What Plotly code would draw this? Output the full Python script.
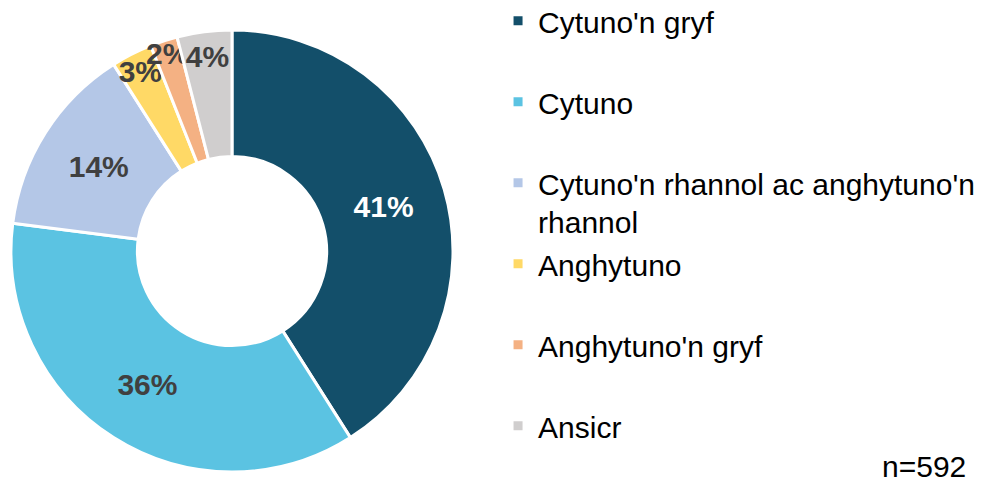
import plotly.graph_objects as go

labels = ["Cytuno'n gryf", "Cytuno", "Cytuno'n rhannol ac anghytuno'n<br>rhannol",
          "Anghytuno", "Anghytuno'n gryf", "Ansicr"]
values = [41, 36, 14, 3, 2, 4]
colors = ["#134F6A", "#5BC3E2", "#B4C7E7", "#FFD966", "#F4B183", "#D0CECE"]
text_colors = ["#FFFFFF", "#404040", "#404040", "#404040", "#404040", "#404040"]
note = "n=592"

# pad single-line legend labels (except the last) to two lines so items are evenly spaced
legend_labels = [l if ("<br>" in l or i == len(labels) - 1) else l + "<br> "
                 for i, l in enumerate(labels)]

W, H = 987, 473  # page body has an 8px margin inside the 995x481 window

fig = go.Figure(go.Pie(
    labels=legend_labels,
    values=values,
    hole=0.428,
    sort=False,
    direction="clockwise",
    rotation=0,
    marker=dict(colors=colors, line=dict(color="#FFFFFF", width=3)),
    texttemplate="%{value}%",
    textposition="inside",
    insidetextorientation="horizontal",
    textfont=dict(family="Liberation Sans", size=30, color=text_colors, weight="bold"),
    domain=dict(x=[0.00304, 0.45086], y=[0.01903, 0.95349]),
    hoverinfo="label+value",
))

fig.update_layout(
    width=W, height=H,
    margin=dict(l=0, r=0, t=0, b=0, autoexpand=False),
    paper_bgcolor="#FFFFFF",
    plot_bgcolor="#FFFFFF",
    uniformtext=dict(minsize=30, mode="show"),
    showlegend=True,
    legend=dict(
        x=0.4965, xanchor="left", y=1.0, yanchor="top",
        valign="top",
        font=dict(family="Liberation Sans", size=30, color="#000000"),
        bgcolor="rgba(0,0,0,0)",
    ),
    annotations=[dict(
        text=note, xref="paper", yref="paper", x=0.9726, y=0.0317,
        xanchor="right", yanchor="middle", showarrow=False,
        font=dict(family="Liberation Sans", size=30, color="#000000"),
    )],
)

try:
    fig.update_layout(legend=dict(maxheight=520, y=1.0279))
except Exception:
    pass

fig.write_html("out.html")
